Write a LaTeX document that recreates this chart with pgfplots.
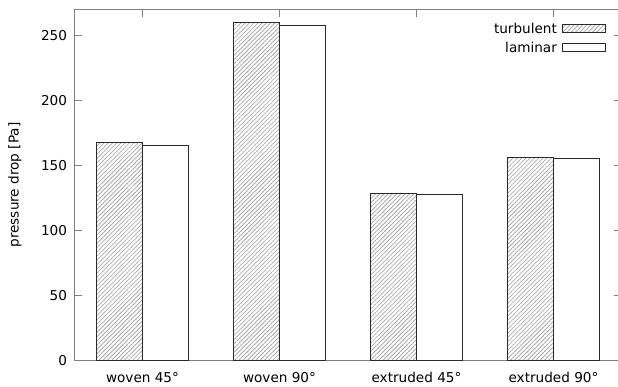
\documentclass[border=0pt]{standalone}
\usepackage{fontspec}
\setmainfont{DejaVu Sans}
\usepackage{pgfplots}
\pgfplotsset{compat=1.18}
\usetikzlibrary{patterns.meta}
\definecolor{framegray}{HTML}{808080}
\definecolor{barline}{HTML}{2A2A2A}
\definecolor{hatchgray}{HTML}{9A9A9A}
\begin{document}
\begin{tikzpicture}[x=1pt,y=1pt]
\path[use as bounding box] (0,0) rectangle (618,387);
\begin{axis}[
  at={(74pt,26.5pt)}, anchor=south west,
  scale only axis, width=548pt, height=351pt,
  xmin=-0.5, xmax=3.5, ymin=0, ymax=270,
  xtick={0,1,2,3},
  xticklabels={woven 45°,woven 90°,extruded 45°,extruded 90°},
  ytick={0,50,100,150,200,250},
  tick align=inside, major tick length=8pt,
  axis line style={framegray, line width=1pt},
  every tick/.style={framegray, line width=1pt},
  /pgf/number format/assume math mode=true,
  tick label style={font=\fontsize{13.6}{16}\selectfont, black},
  xticklabel style={yshift=-8pt},
  yticklabel style={xshift=-3.5pt},
  ylabel={pressure drop [Pa]},
  every axis y label/.style={at={(axis description cs:-0.1077,0.5)}, rotate=90, anchor=center, font=\fontsize{13.6}{16}\selectfont},
  legend style={at={(rel axis cs:0.971,0.968)}, anchor=north east, draw=none, fill=none, inner sep=0pt,
    font=\fontsize{13.6}{16}\selectfont, row sep=3pt, column sep=3pt},
  legend cell align=right,
  legend plot pos=right,
  legend image code/.code={\draw[#1] (0pt,-4pt) rectangle (43pt,4pt);},
]
\addplot[ybar, bar width=0.336, bar shift=-0.168, draw=barline, line width=1pt,
  pattern={Lines[angle=45,distance=3pt,line width=0.6pt]}, pattern color=hatchgray]
  coordinates {(0,167.5) (1,260.2) (2,128.2) (3,156.4)};
\addlegendentry{turbulent}
\addplot[ybar, bar width=0.336, bar shift=0.168, draw=barline, line width=1pt, fill=white]
  coordinates {(0,165.1) (1,257.7) (2,127.4) (3,155.6)};
\addlegendentry{laminar}
\end{axis}
\end{tikzpicture}
\end{document}
